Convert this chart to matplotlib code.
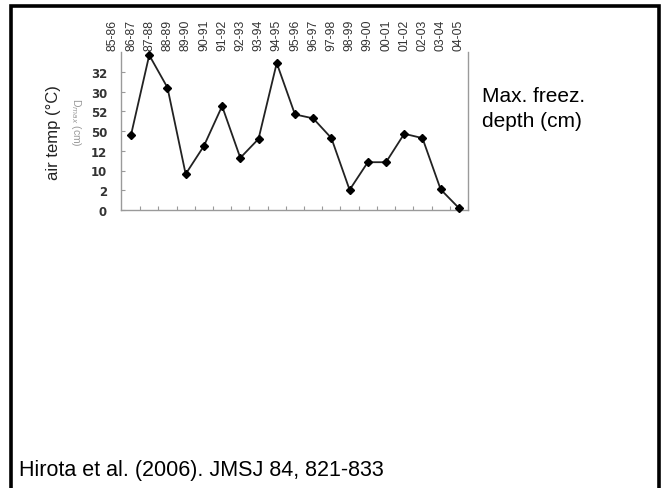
import numpy as np
import matplotlib.pyplot as plt
import matplotlib.transforms as mtransforms
from matplotlib.patches import Rectangle

W, H = 661, 489

seasons = ['85-86', '86-87', '87-88', '88-89', '89-90', '90-91', '91-92',
           '92-93', '93-94', '94-95', '95-96', '96-97', '97-98', '98-99',
           '99-00', '00-01', '01-02', '02-03', '03-04', '04-05']
# max. freezing depth (cm), first value is 86-87
depth = [19.0, 39.2, 31.0, 9.1, 16.2, 26.3, 13.2, 18.0, 37.2, 24.2,
         23.2, 18.2, 5.1, 12.1, 12.1, 19.3, 18.2, 5.2, 0.5]
# tick labels as they appear (mirrored glyphs in the scanned figure)
ytick_vals = [0, 5, 10, 15, 20, 25, 30, 35]
ytick_text = ['0', '2', '10', '12', '50', '52', '30', '32']

plt.rcParams['font.family'] = ['Liberation Sans', 'DejaVu Sans']

fig = plt.figure(figsize=(W / 100, H / 100), dpi=100)
ax = fig.add_axes([121 / W, 1 - 211 / H, 347 / W, 158 / H])

xs = np.arange(1, len(depth) + 1)
ax.plot(xs, depth, color='#222222', lw=1.3, marker='D', ms=4.5,
        mfc='black', mec='black', clip_on=False, zorder=3)

ax.set_xlim(0.45, 19.44)
ax.set_ylim(0, 40)

ax.spines['top'].set_visible(False)
for s in ['left', 'right', 'bottom']:
    ax.spines[s].set_color('#9a9a9a')
    ax.spines[s].set_linewidth(1.0)

ax.set_xticks(np.arange(1, 20) + 0.5)
ax.set_xticklabels([])
ax.tick_params(axis='x', direction='in', length=3, color='#9a9a9a')
ax.set_yticks(ytick_vals)
ax.set_yticklabels(ytick_text, fontsize=8.5, fontweight='bold',
                   color='#333333', family='DejaVu Sans')
ax.tick_params(axis='y', direction='in', length=3, color='#9a9a9a', pad=10)

trans = mtransforms.blended_transform_factory(ax.transData, ax.transAxes)
for i, lab in enumerate(seasons):
    ax.text(i, 1.01, lab, rotation=90, ha='center', va='bottom',
            fontsize=8.8, color='#333333', transform=trans, clip_on=False)

fig.text(53 / W, 1 - 133 / H, 'air temp (\u00b0C)', rotation=90,
         ha='center', va='center', fontsize=12, color='#222222')
fig.text(76 / W, 1 - 122 / H, 'D$_{max}$ (cm)', rotation=-90,
         ha='center', va='center', fontsize=7.5, color='#999999')

fig.text(482 / W, 1 - 87 / H, 'Max. freez.\ndepth (cm)', ha='left', va='top',
         fontsize=15, color='black', linespacing=1.38)
fig.text(19 / W, 1 - 476 / H, 'Hirota et al. (2006). JMSJ 84, 821-833',
         ha='left', va='baseline', fontsize=15.5, color='black')

fig.patches.append(Rectangle((10.5 / W, -0.05), 648 / W, 1.05 - 6.5 / H,
                             transform=fig.transFigure, fill=False,
                             edgecolor='black', lw=2.6))

fig.savefig('out.png', dpi=100)
